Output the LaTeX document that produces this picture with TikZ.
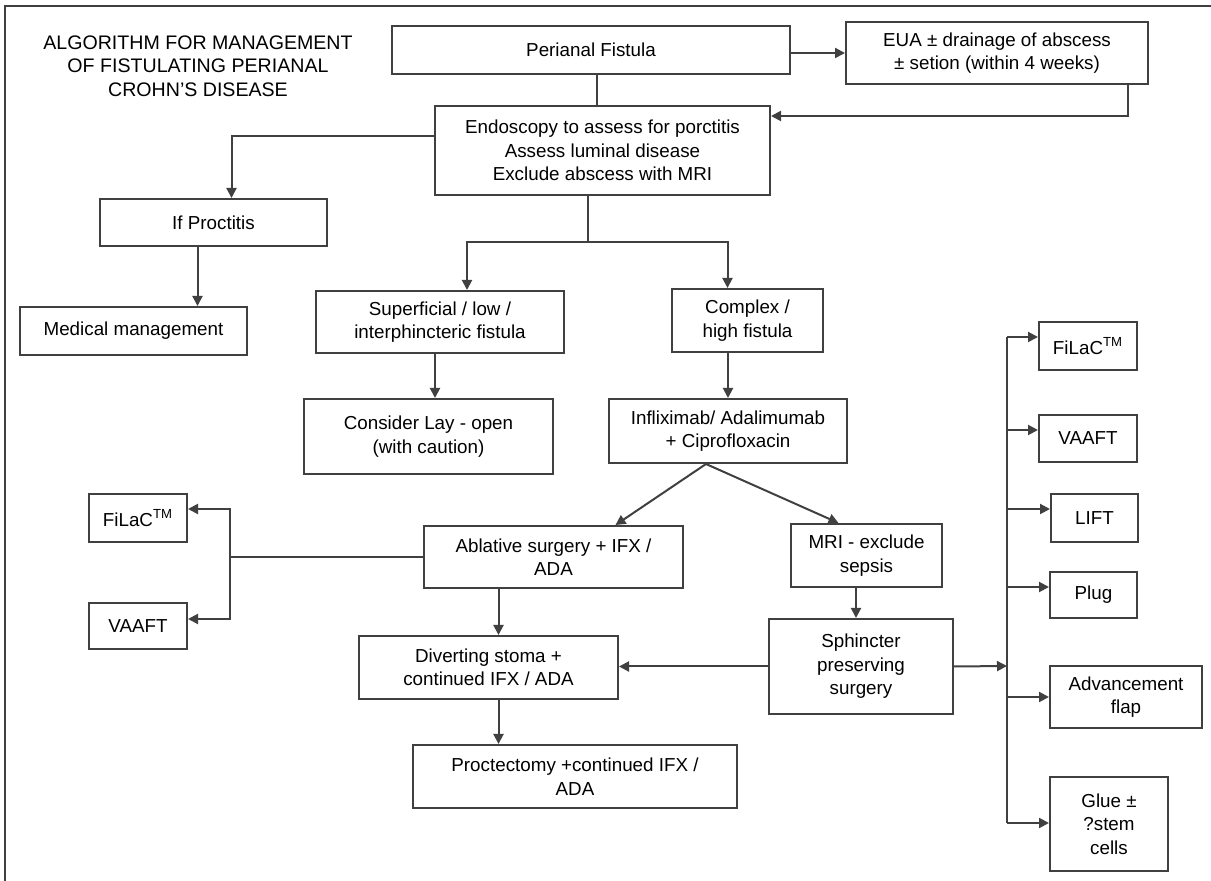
\documentclass[tikz,border=0pt]{standalone}
\usepackage{fontspec}
\setmainfont{Liberation Sans}
\usetikzlibrary{arrows.meta, calc}
\definecolor{linegray}{HTML}{404040}

\begin{document}
\begin{tikzpicture}[
    x=0.5pt, y=-0.5pt,
    every node/.style={font=\fontsize{9.4}{11.7}\selectfont, text=black}, % text of all boxes
    blk/.style 2 args={draw=linegray, line width=1pt, align=center, inner sep=1pt,
        minimum width=#1pt, minimum height=#2pt}, % box of given width and height
    conn/.style={draw=linegray, line width=1pt}, % plain connector
    arr/.style={conn, -{Triangle[length=5pt, width=5pt]}} % connector with arrow
    ]

    \useasboundingbox (0,0) rectangle (1211,881);
    % frame
    \draw[conn] (5,881) -- (5,6) -- (1211,6);

    % title
    \node[align=center, font=\fontsize{9.8}{11.75}\selectfont] (title) at (198,66)
        {ALGORITHM FOR MANAGEMENT\\OF FISTULATING PERIANAL\\CROHN’S DISEASE};

    % boxes
    \node[blk={199}{24}] (peri) at (591,50) {Perianal Fistula};
    \node[blk={151}{31}] (eua) at (997,53) {EUA ± drainage of abscess\\± setion (within 4 weeks)};
    \node[blk={167.5}{44.5}] (endo) at (602.5,150.5)
        {Endoscopy to assess for porctitis\\Assess luminal disease\\Exclude abscess with MRI};
    \node[blk={113.5}{23.5}] (proct) at (213.5,222.5) {If Proctitis};
    \node[blk={113.5}{24}] (medic) at (133.5,331) {Medical management};
    \node[blk={124}{31}] (superf) at (440,322) {Superficial / low /\\interphincteric fistula};
    \node[blk={75.5}{31.5}] (complex) at (747.5,320.5) {Complex /\\high fistula};
    \node[blk={124.5}{37.5}] (layopen) at (428.5,436.5) {Consider Lay - open\\(with caution)};
    \node[blk={119}{32}] (inflix) at (728,431) {Infliximab/ Adalimumab\\+ Ciprofloxacin};
    \node[blk={49}{24}] (filacL) at (138,518) {FiLaC\textsuperscript{TM}};
    \node[blk={49}{23}] (vaaftL) at (138,626) {VAAFT};
    \node[blk={129.5}{31}] (ablat) at (553.5,557) {Ablative surgery + IFX /\\ADA};
    \node[blk={75.5}{31.5}] (mri) at (866.5,555.5) {MRI - exclude\\sepsis};
    \node[blk={129.5}{31.5}] (divert) at (488.5,667.5) {Diverting stoma +\\continued IFX / ADA};
    \node[blk={92}{47.5}] (sphinc) at (861,666.5) {Sphincter\\preserving\\surgery};
    \node[blk={162}{31.5}] (proctec) at (575,776.5) {Proctectomy +continued IFX /\\ADA};
    \node[blk={49}{24}] (filacR) at (1088,346) {FiLaC\textsuperscript{TM}};
    \node[blk={49}{23.5}] (vaaftR) at (1088,438.5) {VAAFT};
    \node[blk={43.5}{24}] (lift) at (1094.5,518) {LIFT};
    \node[blk={43.5}{23}] (plug) at (1093.5,595) {Plug};
    \node[blk={76}{31}] (advflap) at (1126,697) {Advancement\\flap};
    \node[blk={59}{47}] (glue) at (1109,824) {Glue ±\\?stem\\cells};

    % branch points
    \coordinate (split) at (588,242);
    \coordinate (fork) at ([xshift=-11pt]inflix.south);
    \coordinate (lbranch) at (230,557);
    \coordinate (spine) at (1007,666);

    % top part
    \draw[arr] (peri.east |- eua.west) -- (eua.west);
    \draw[conn] ([xshift=3pt]peri.south) -- ([xshift=3pt]peri.south |- endo.north);
    \draw[arr] ([xshift=-10.5pt]eua.south east) |- ([yshift=-5.5pt]endo.north east);
    \draw[arr] ([yshift=-15.5pt]endo.north west) -| ([xshift=9pt]proct.north);
    \draw[arr] ([xshift=-8pt]proct.south) -- ([xshift=-8pt]proct.south |- medic.north);
    \draw[conn] (split |- endo.south) -- (split);
    \draw[arr] (split) -| ([xshift=13.5pt]superf.north);
    \draw[arr] (split) -| ([xshift=-10pt]complex.north);
    \draw[arr] ([xshift=-2.5pt]superf.south) -- ([xshift=-2.5pt]superf.south |- layopen.north);
    \draw[arr] (inflix.north |- complex.south) -- (inflix.north);

    % surgery
    \draw[arr] (fork) -- ([xshift=31pt]ablat.north);
    \draw[arr] (fork) -- ([xshift=-14pt]mri.north);
    \draw[arr] ([xshift=5pt]divert.north |- ablat.south) -- ([xshift=5pt]divert.north);
    \draw[arr] ([xshift=5pt]divert.south) -- ([xshift=5pt]divert.south |- proctec.north);
    \draw[arr] ([xshift=-2.5pt]sphinc.north |- mri.south) -- ([xshift=-2.5pt]sphinc.north);
    \draw[arr] (sphinc.west) -- (sphinc.west -| divert.east);

    % left options
    \draw[conn] (ablat.west) -- (lbranch);
    \draw[arr] (lbranch) |- ([yshift=4.5pt]filacL.east);
    \draw[arr] (lbranch) |- ([yshift=3.5pt]vaaftL.east);

    % right options
    \draw[arr] (sphinc.east) -- (spine);
    \draw[conn] ([yshift=4.5pt]spine |- filacR.west) -- ([yshift=0.5pt]spine |- glue.west);
    \foreach \n/\s in {filacR/4.5, vaaftR/4.25, lift/4.5, plug/4, advflap/0, glue/0.5}
        \draw[arr] ([yshift=\s pt]spine |- \n.west) -- ([yshift=\s pt]\n.west);

\end{tikzpicture}
\end{document}
